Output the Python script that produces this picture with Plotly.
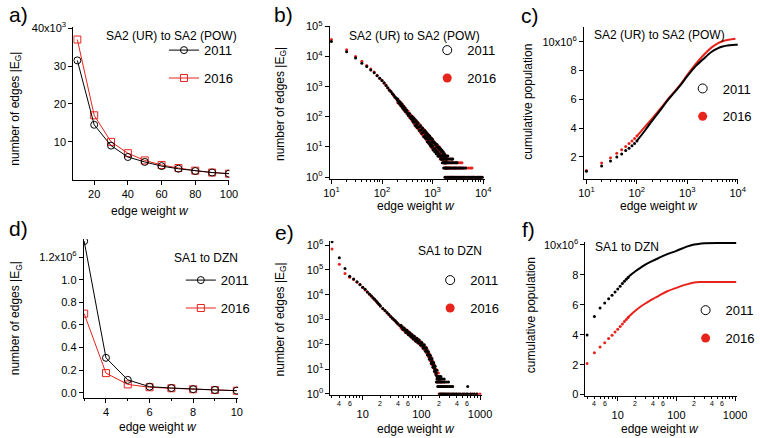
import math
import plotly.graph_objects as go

# ---------------- data ----------------
# a) SA2 (UR) -> SA2 (POW): number of edges per weight bin
a_w = [10, 20, 30, 40, 50, 60, 70, 80, 90, 100]
a_2011 = [31500, 14500, 9000, 6000, 4700, 3600, 2900, 2300, 1900, 1600]
a_2016 = [37000, 17000, 10000, 7000, 5100, 3900, 3100, 2400, 1900, 1600]

# b) SA2 (UR) -> SA2 (POW): edges per weight, log-log
b_w_2011 = [10, 20, 30, 40, 50, 60, 70, 80, 90, 100, 110, 120, 130, 140, 150, 160, 170, 180, 190, 200,
            210, 220, 230, 240, 250, 260, 270, 280, 290, 300, 320, 340, 360, 380, 400, 420, 440, 460, 480, 500,
            530, 560, 590, 620, 650, 680, 710, 740, 770, 800, 830, 860, 890, 920, 950, 980, 1000, 1040, 1080, 1120,
            1160, 1200, 1250, 1300, 1350, 1400, 1450, 1500, 1550, 1600, 1650, 1700, 1750, 1800, 1850, 1900]
b_n_2011 = [31500, 14500, 9000, 6000, 4700, 3600, 2900, 2300, 1900, 1600, 1350, 1100, 930, 760, 700, 580, 530, 450, 420, 360,
            330, 310, 270, 255, 225, 215, 190, 185, 165, 160, 130, 125, 100, 98, 80, 85, 66, 70, 55, 58,
            45, 48, 36, 40, 30, 33, 24, 28, 20, 23, 17, 21, 14, 18, 12, 15, 11, 14, 9, 12,
            8, 10, 7, 9, 6, 8, 5, 7, 5, 6, 4, 5, 3, 4, 3, 4]
b_w_2011_more = [205, 215, 225, 235, 245, 255, 265, 275, 285, 295, 310, 330, 350, 370, 390, 410, 430, 450, 470, 490,
                 515, 545, 575, 605, 635, 665, 695, 725, 755, 785, 815, 845, 875, 905, 935, 965, 990, 1020, 1060, 1100,
                 1140, 1180, 1220, 1270, 1320, 1370, 1420, 1470, 1520, 1570, 1620, 1680, 1720, 1780, 1820, 1880]
b_n_2011_more = [390, 285, 320, 235, 270, 198, 230, 168, 198, 145, 165, 112, 130, 88, 104, 68, 90, 52, 76, 44,
                 64, 35, 52, 28, 43, 22, 36, 19, 30, 15, 26, 13, 23, 11, 20, 10, 18, 8, 15, 7,
                 13, 6, 12, 5, 10, 5, 9, 4, 8, 4, 7, 3, 6, 3, 5, 2]
b_w_2016 = [10, 20, 30, 40, 50, 60, 70, 80, 90, 100, 110, 120, 130, 140, 150, 160, 170, 180, 190, 200,
            210, 220, 230, 240, 250, 260, 270, 280, 290, 300, 320, 340, 360, 380, 400, 420, 440, 460, 480, 500,
            530, 560, 590, 620, 650, 680, 710, 740, 770, 800, 830, 860, 890, 920, 950, 980, 1000, 1040, 1080, 1120,
            1160, 1200, 1250, 1300, 1350, 1400, 1450, 1500, 1550, 1600, 1650, 1700, 1750, 1800, 1850]
b_n_2016 = [37000, 17000, 10000, 7000, 5100, 3900, 3100, 2400, 1900, 1600, 1300, 1150, 900, 800, 680, 600, 510, 470, 400, 380,
            320, 300, 280, 240, 235, 205, 200, 175, 170, 150, 140, 115, 110, 90, 92, 75, 78, 62, 63, 52,
            50, 42, 43, 34, 36, 27, 30, 22, 25, 19, 22, 15, 19, 13, 16, 11, 14, 10, 13, 9,
            11, 8, 10, 7, 8, 6, 7, 5, 6, 4, 5, 4, 3, 5, 3]
b_w_2016_more = [205, 215, 225, 235, 245, 255, 265, 275, 285, 295, 310, 330, 350, 370, 390, 410, 430, 450, 470, 490,
                 515, 545, 575, 605, 635, 665, 695, 725, 755, 785, 815, 845, 875, 905, 935, 965, 990, 1020, 1060, 1100,
                 1140, 1180, 1220, 1270, 1320, 1370, 1420, 1470, 1520, 1570, 1620, 1680, 1720, 1780, 1820, 1880]
b_n_2016_more = [300, 350, 255, 300, 215, 250, 180, 215, 150, 185, 128, 150, 95, 118, 75, 98, 60, 82, 48, 70,
                 40, 58, 31, 46, 25, 39, 21, 33, 17, 28, 14, 24, 12, 21, 10, 19, 9, 16, 8, 14,
                 7, 12, 6, 11, 5, 10, 4, 8, 4, 7, 3, 6, 3, 5, 2, 4]
# low-count bands of the tail: {edge count: weights}
b_tail_2011 = {
    1: [1750, 1850, 1950, 2050, 2150, 2250, 2350, 2450, 2550, 2700, 2850, 3000, 3150, 3300, 3500, 3700, 3900,
        4100, 4300, 4600, 4900, 5200, 5500, 5800, 6100, 6400, 6800, 7200, 7600, 8000, 8500, 9000, 9600],
    2: [1650, 1750, 1850, 1950, 2050, 2150, 2250, 2400, 2550, 2700, 2850, 3000, 3200, 3400, 3600, 3850, 4100, 4500],
    3: [1550, 1650, 1750, 1850, 1950, 2050, 2200, 2350, 2500, 2700, 2900, 3050],
    4: [1450, 1550, 1650, 1750, 1850, 1950, 2100, 2250, 2400, 2500],
    5: [1300, 1400, 1500, 1600, 1700, 1800, 1900, 2000],
}
b_tail_2016 = {
    1: [1800, 1900, 2000, 2100, 2200, 2300, 2400, 2500, 2600, 2750, 2900, 3050, 3200, 3400, 3600, 3800, 4000,
        4250, 4500, 4800, 5100, 5400, 5700, 6000, 6400, 6800, 7200, 7700, 8200, 8700, 9200],
    2: [1700, 1800, 1900, 2000, 2100, 2200, 2300, 2450, 2600, 2750, 2900, 3100, 3300, 3500, 3700, 4000, 4300,
        4700, 5200, 5700, 6000],
    3: [1600, 1700, 1800, 1900, 2000, 2150, 2300, 2450, 2600, 2800, 3000, 3300, 3600, 3800],
    4: [1500, 1600, 1700, 1800, 1900, 2000, 2200, 2400],
    5: [1350, 1450, 1550, 1650, 1750, 1900],
}

# c) SA2 (UR) -> SA2 (POW): cumulative population
c_w_dots = [10, 20, 30, 40, 50, 60, 70, 80, 90, 100]
c_2011_dots = [1.0e6, 1.35e6, 1.71e6, 1.98e6, 2.2e6, 2.43e6, 2.6e6, 2.76e6, 2.92e6, 3.1e6]
c_2016_dots = [1.05e6, 1.57e6, 1.93e6, 2.25e6, 2.49e6, 2.72e6, 2.92e6, 3.1e6, 3.28e6, 3.44e6]
c_w_line = [100, 150, 200, 300, 400, 500, 700, 1000, 1500, 2000, 3000, 4000, 5000, 6000, 7000, 8000, 9000, 10000]
c_2011_line = [3.1e6, 3.9e6, 4.5e6, 5.3e6, 5.9e6, 6.3e6, 6.9e6, 7.62e6, 8.35e6, 8.75e6, 9.3e6, 9.55e6, 9.68e6,
               9.74e6, 9.77e6, 9.79e6, 9.8e6, 9.8e6]
c_w_line16 = [100, 150, 200, 300, 400, 500, 700, 1000, 1500, 2000, 3000, 4000, 5000, 6000, 7000, 8000, 9000]
c_2016_line = [3.44e6, 4.15e6, 4.65e6, 5.4e6, 5.95e6, 6.35e6, 6.95e6, 7.7e6, 8.5e6, 9.0e6, 9.6e6, 9.9e6, 10.05e6,
               10.12e6, 10.16e6, 10.2e6, 10.22e6]

# d) SA1 -> DZN: number of edges per weight
d_w = [3, 4, 5, 6, 7, 8, 9, 10]
d_2011 = [1.34e6, 0.31e6, 0.115e6, 0.055e6, 0.043e6, 0.033e6, 0.026e6, 0.02e6]
d_2016 = [0.70e6, 0.175e6, 0.075e6, 0.05e6, 0.041e6, 0.032e6, 0.025e6, 0.0195e6]

# e) SA1 -> DZN: edges per weight, log-log
e_w = [3, 4, 5, 6, 7, 8, 9, 10, 11, 12, 13, 14, 15, 16, 17, 18, 19, 20, 22, 24, 26, 28, 30, 32, 34, 36, 38, 40,
       43, 46, 49, 52, 55, 58, 61, 64, 67, 70, 74, 78, 82, 86, 90, 95, 100, 105, 110, 115, 120, 125, 130, 135,
       140, 145, 150, 155, 160, 165, 170, 175, 180]
e_2011 = [1350000, 310000, 115000, 55000, 43000, 33000, 26000, 20000, 16500, 13000, 10800, 9000, 7600, 6500,
          5600, 4700, 4100, 3500, 2800, 2300, 1900, 1600, 1300, 1150, 980, 900, 760, 680,
          560, 500, 420, 390, 330, 310, 260, 250, 210, 205, 170, 165, 140, 135, 120, 115, 100, 92, 80, 72,
          60, 52, 42, 36, 30, 26, 21, 18, 15, 12, 10, 9, 7]
e_2016 = [700000, 170000, 72000, 50000, 41000, 32000, 25000, 19500, 15500, 12800, 10500, 8700, 7400, 6300,
          5400, 4600, 4000, 3500, 2700, 2250, 1850, 1550, 1350, 1100, 1000, 850, 780, 650,
          580, 480, 440, 370, 350, 290, 275, 240, 225, 190, 180, 155, 148, 125, 122, 105, 98, 85, 78, 65,
          58, 45, 40, 30, 28, 22, 19, 15, 13, 11, 9, 8, 6]
e_w_more = [45, 48, 51, 54, 57, 60, 63, 66, 69, 72, 76, 80, 84, 88, 92, 97, 102, 107, 112, 117, 122, 127, 132,
            137, 142, 147, 152, 157, 162, 167, 172, 177, 185, 195]
e_2011_more = [590, 400, 460, 300, 365, 245, 300, 200, 250, 165, 210, 132, 175, 112, 150, 92, 118, 70, 95, 53,
               72, 37, 50, 25, 36, 17, 26, 12, 18, 8, 13, 6, 9, 4]
e_2016_more = [460, 510, 350, 400, 270, 325, 225, 270, 185, 225, 150, 185, 125, 155, 105, 130, 82, 100, 62, 80,
               46, 60, 32, 42, 22, 30, 15, 21, 11, 15, 7, 10, 5, 7]
e_tail_2011 = {
    1: [205, 215, 225, 235, 245, 255, 270, 285, 300, 320, 340, 360, 380, 400, 430, 460, 500, 540, 580, 620,
        680, 740, 800, 880],
    2: [190, 200, 210, 220, 230, 245, 260, 280, 300, 320, 340, 615],
    3: [180, 190, 200, 210, 220, 235, 250, 270, 290],
    4: [185, 195, 205, 215, 230, 245],
    5: [185, 195, 205, 215],
}
e_tail_2016 = {
    1: [200, 215, 230, 250, 270, 290, 320, 350, 400, 450, 520, 600, 700, 800, 900, 1000],
    2: [195, 210, 225, 240, 260, 280, 300, 340],
    3: [185, 200, 215, 230, 250],
    4: [185, 195, 205],
}

# f) SA1 -> DZN: cumulative population
f_w_dots = [3, 4, 5, 6, 7, 8, 9, 10, 11, 12, 13, 14, 15]
f_2011_dots = [3.98e6, 5.22e6, 5.78e6, 6.12e6, 6.4e6, 6.64e6, 6.86e6, 7.05e6, 7.24e6, 7.42e6, 7.57e6, 7.7e6, 7.82e6]
f_2016_dots = [2.08e6, 2.8e6, 3.18e6, 3.46e6, 3.74e6, 3.97e6, 4.18e6, 4.37e6, 4.55e6, 4.72e6, 4.88e6, 5.02e6, 5.15e6]
f_w_line = [15, 16, 18, 20, 25, 30, 40, 50, 70, 100, 150, 200, 250, 300, 500, 700, 1050]
f_2011_line = [7.82e6, 7.93e6, 8.1e6, 8.24e6, 8.5e6, 8.7e6, 8.95e6, 9.12e6, 9.38e6, 9.6e6, 9.88e6, 10.02e6,
               10.08e6, 10.1e6, 10.12e6, 10.12e6, 10.12e6]
f_2016_line = [5.15e6, 5.26e6, 5.45e6, 5.6e6, 5.9e6, 6.1e6, 6.4e6, 6.6e6, 6.9e6, 7.13e6, 7.36e6, 7.48e6,
               7.52e6, 7.52e6, 7.52e6, 7.52e6, 7.52e6]

# tick labels
a_yticks = [10000, 20000, 30000, 40000]
a_ytext = ["10", "20", "30", "40x10<sup>3</sup>"]
d_yticks = [0, 0.2e6, 0.4e6, 0.6e6, 0.8e6, 1.0e6, 1.2e6]
d_ytext = ["0.0", "0.2", "0.4", "0.6", "0.8", "1.0", "1.2x10<sup>6</sup>"]
pop_yticks_c = [2e6, 4e6, 6e6, 8e6, 10e6]
pop_ytext_c = ["2", "4", "6", "8", "10x10<sup>6</sup>"]
pop_yticks_f = [0, 2e6, 4e6, 6e6, 8e6, 10e6]
pop_ytext_f = ["0", "2", "4", "6", "8", "10x10<sup>6</sup>"]
dec_x_b = [10, 100, 1000, 10000]
dec_x_b_text = ["10<sup>1</sup>", "10<sup>2</sup>", "10<sup>3</sup>", "10<sup>4</sup>"]
dec_y_b = [1, 10, 100, 1000, 10000, 100000]
dec_y_b_text = ["10<sup>0</sup>", "10<sup>1</sup>", "10<sup>2</sup>", "10<sup>3</sup>", "10<sup>4</sup>", "10<sup>5</sup>"]
dec_y_e = [1, 10, 100, 1000, 10000, 100000, 1000000]
dec_y_e_text = ["10<sup>0</sup>", "10<sup>1</sup>", "10<sup>2</sup>", "10<sup>3</sup>", "10<sup>4</sup>",
                "10<sup>5</sup>", "10<sup>6</sup>"]
dec_x_e = [10, 100, 1000]
dec_x_e_text = ["10", "100", "1000"]
small_x_e = [4, 6, 20, 40, 60, 200, 400, 600]

# ---------------- style ----------------
FONT = "Liberation Sans, Arial, Helvetica, sans-serif"
BLACK = "#000000"
RED = "#e8231c"
W, H = 760, 438
DOT = 3


def dx(a, b):
    return [a / W, b / W]


def dy(top, bottom):
    return [1 - bottom / H, 1 - top / H]


def minor_log(lo, hi):
    vals = []
    for dec in range(lo, hi):
        for m in range(2, 10):
            vals.append(m * 10 ** dec)
    return vals


def flat(tail):
    xs, ys = [], []
    for n, ws in tail.items():
        xs += ws
        ys += [n] * len(ws)
    return xs, ys


fig = go.Figure()

# a
fig.add_trace(go.Scatter(x=a_w, y=a_2016, mode="lines+markers", name="2016", legend="legend",
                         legendgroup="a16", legendrank=2,
                         line=dict(color=RED, width=1),
                         marker=dict(symbol="square-open", size=7, color=RED, line=dict(width=1, color=RED)),
                         xaxis="x", yaxis="y"))
fig.add_trace(go.Scatter(x=a_w, y=a_2011, mode="lines+markers", name="2011", legend="legend",
                         legendgroup="a11", legendrank=1,
                         line=dict(color=BLACK, width=1),
                         marker=dict(symbol="circle-open", size=7, color=BLACK, line=dict(width=1, color=BLACK)),
                         xaxis="x", yaxis="y"))

# b
tx, ty = flat(b_tail_2016)
fig.add_trace(go.Scatter(x=b_w_2016 + b_w_2016_more + tx, y=b_n_2016 + b_n_2016_more + ty, mode="markers",
                         showlegend=False, marker=dict(color=RED, size=DOT), xaxis="x2", yaxis="y2"))
tx, ty = flat(b_tail_2011)
fig.add_trace(go.Scatter(x=b_w_2011 + b_w_2011_more + tx, y=b_n_2011 + b_n_2011_more + ty, mode="markers",
                         showlegend=False, marker=dict(color=BLACK, size=DOT), xaxis="x2", yaxis="y2"))

# c
fig.add_trace(go.Scatter(x=c_w_dots, y=c_2016_dots, mode="markers", showlegend=False,
                         marker=dict(color=RED, size=DOT), xaxis="x3", yaxis="y3"))
fig.add_trace(go.Scatter(x=c_w_dots, y=c_2011_dots, mode="markers", showlegend=False,
                         marker=dict(color=BLACK, size=DOT), xaxis="x3", yaxis="y3"))
fig.add_trace(go.Scatter(x=c_w_line16, y=c_2016_line, mode="lines", showlegend=False,
                         line=dict(color=RED, width=2, shape="spline"), xaxis="x3", yaxis="y3"))
fig.add_trace(go.Scatter(x=c_w_line, y=c_2011_line, mode="lines", showlegend=False,
                         line=dict(color=BLACK, width=2, shape="spline"), xaxis="x3", yaxis="y3"))

# d
fig.add_trace(go.Scatter(x=d_w, y=d_2016, mode="lines+markers", name="2016", legend="legend4",
                         legendgroup="d16", legendrank=2,
                         line=dict(color=RED, width=1),
                         marker=dict(symbol="square-open", size=7, color=RED, line=dict(width=1, color=RED)),
                         xaxis="x4", yaxis="y4"))
fig.add_trace(go.Scatter(x=d_w, y=d_2011, mode="lines+markers", name="2011", legend="legend4",
                         legendgroup="d11", legendrank=1,
                         line=dict(color=BLACK, width=1),
                         marker=dict(symbol="circle-open", size=7, color=BLACK, line=dict(width=1, color=BLACK)),
                         xaxis="x4", yaxis="y4"))

# e
tx, ty = flat(e_tail_2016)
fig.add_trace(go.Scatter(x=e_w + e_w_more + tx, y=e_2016 + e_2016_more + ty, mode="markers", showlegend=False,
                         marker=dict(color=RED, size=DOT), xaxis="x5", yaxis="y5"))
tx, ty = flat(e_tail_2011)
fig.add_trace(go.Scatter(x=e_w + e_w_more + tx, y=e_2011 + e_2011_more + ty, mode="markers", showlegend=False,
                         marker=dict(color=BLACK, size=DOT), xaxis="x5", yaxis="y5"))

# f
fig.add_trace(go.Scatter(x=f_w_dots, y=f_2016_dots, mode="markers", showlegend=False,
                         marker=dict(color=RED, size=DOT), xaxis="x6", yaxis="y6"))
fig.add_trace(go.Scatter(x=f_w_dots, y=f_2011_dots, mode="markers", showlegend=False,
                         marker=dict(color=BLACK, size=DOT), xaxis="x6", yaxis="y6"))
fig.add_trace(go.Scatter(x=f_w_line, y=f_2016_line, mode="lines", showlegend=False,
                         line=dict(color=RED, width=2, shape="spline"), xaxis="x6", yaxis="y6"))
fig.add_trace(go.Scatter(x=f_w_line, y=f_2011_line, mode="lines", showlegend=False,
                         line=dict(color=BLACK, width=2, shape="spline"), xaxis="x6", yaxis="y6"))

# legend keys for the dot panels (open circle = 2011, filled red = 2016)
for ax, lg in [("2", "legend2"), ("3", "legend3"), ("5", "legend5"), ("6", "legend6")]:
    fig.add_trace(go.Scatter(x=[None], y=[None], mode="markers", name="2011", legend=lg,
                             legendgroup=lg + "a", legendrank=1,
                             marker=dict(symbol="circle-open", size=9, color=BLACK, line=dict(width=1, color=BLACK)),
                             xaxis="x" + ax, yaxis="y" + ax))
    fig.add_trace(go.Scatter(x=[None], y=[None], mode="markers", name="2016", legend=lg,
                             legendgroup=lg + "b", legendrank=2,
                             marker=dict(symbol="circle", size=9, color=RED),
                             xaxis="x" + ax, yaxis="y" + ax))

axis_common = dict(showline=True, linecolor=BLACK, linewidth=1, ticks="outside", ticklen=4, tickwidth=1,
                   tickcolor=BLACK, showgrid=False, zeroline=False, mirror=False,
                   tickfont=dict(family=FONT, size=11, color=BLACK))
minor_lin = dict(ticks="outside", ticklen=2, tickwidth=1, tickcolor=BLACK, showgrid=False)


def mk(**kw):
    d = dict(axis_common)
    d.update(kw)
    return d


minor_e = [v for v in minor_log(0, 3) if v >= 3]

layout_axes = dict(
    xaxis=mk(domain=dx(68, 228), range=[7.6, 100.2], tickvals=[20, 40, 60, 80, 100], anchor="y"),
    yaxis=mk(domain=dy(20, 177), range=[0, 40200], tickvals=a_yticks, ticktext=a_ytext, anchor="x"),
    xaxis2=mk(domain=dx(331, 490), type="log", range=[0.967, 4.03], tickvals=dec_x_b, ticktext=dec_x_b_text,
              ticklabelstandoff=-1, minor=dict(minor_lin, tickvals=minor_log(1, 4)), anchor="y2"),
    yaxis2=mk(domain=dy(19, 176.7), type="log", range=[-0.077, 5.0], tickvals=dec_y_b, ticktext=dec_y_b_text,
              anchor="x2"),
    xaxis3=mk(domain=dx(591.7, 750), type="log", range=[0.95, 4.01], tickvals=dec_x_b, ticktext=dec_x_b_text,
              ticklabelstandoff=-1, minor=dict(minor_lin, tickvals=minor_log(1, 4)), anchor="y3"),
    yaxis3=mk(domain=dy(20, 176.7), range=[0.42e6, 11.01e6], tickvals=pop_yticks_c, ticktext=pop_ytext_c,
              anchor="x3"),
    xaxis4=mk(domain=dx(78.7, 237), range=[2.98, 10.06], tickvals=[4, 6, 8, 10],
              minor=dict(minor_lin, tickvals=[3, 5, 7, 9]), anchor="y4"),
    yaxis4=mk(domain=dy(238, 401.7), range=[-0.043e6, 1.36e6], tickvals=d_yticks, ticktext=d_ytext, anchor="x4"),
    xaxis5=mk(domain=dx(331.7, 487), type="log", range=[0.45, 3.03], tickvals=dec_x_e, ticktext=dec_x_e_text,
              ticklabelstandoff=5, minor=dict(minor_lin, tickvals=minor_e), anchor="y5"),
    yaxis5=mk(domain=dy(240, 398.5), type="log", range=[-0.03, 6.17], tickvals=dec_y_e, ticktext=dec_y_e_text,
              anchor="x5"),
    xaxis6=mk(domain=dx(593.3, 748.5), type="log", range=[0.45, 3.03], tickvals=dec_x_e, ticktext=dec_x_e_text,
              ticklabelstandoff=5, minor=dict(minor_lin, tickvals=minor_e), anchor="y6"),
    yaxis6=mk(domain=dy(241, 400), range=[-0.1e6, 10.2e6], tickvals=pop_yticks_f, ticktext=pop_ytext_f,
              anchor="x6"),
)


def leg(x_px, y_px):
    return dict(x=x_px / W, y=1 - y_px / H, xanchor="left", yanchor="top", bgcolor="rgba(0,0,0,0)",
                borderwidth=0, font=dict(family=FONT, size=13, color=BLACK), tracegroupgap=8, itemwidth=30)


ann = []


def text(x, y, s, size=12, xanchor="center", yanchor="middle", angle=0):
    ann.append(dict(x=x / W, y=1 - y / H, xref="paper", yref="paper", text=s, showarrow=False,
                    xanchor=xanchor, yanchor=yanchor, textangle=angle,
                    font=dict(family=FONT, size=size, color=BLACK)))


# panel letters
for s, x, y in [("a)", 0, 7), ("b)", 272, 7), ("c)", 525, 8), ("d)", 0, 227), ("e)", 273, 231), ("f)", 526, 228)]:
    text(x, y, s, size=21, xanchor="left")

# in-plot titles
text(238, 29, "SA2 (UR) to SA2 (POW)", xanchor="right")
text(487.3, 29.3, "SA2 (UR) to SA2 (POW)", xanchor="right")
text(600, 28.3, "SA2 (UR) to SA2 (POW)", xanchor="left")
text(239.3, 257.7, "SA1 to DZN", xanchor="right")
text(489.3, 250, "SA1 to DZN", xanchor="right")
text(601, 246.7, "SA1 to DZN", xanchor="left")

# axis titles
YT = "number of edges |E<sub>G</sub>|"
XT = "edge weight <i>w</i>"
text(9, 104, YT, angle=-90)
text(281, 99, YT, angle=-90)
text(534, 97, "cumulative population", angle=-90)
text(9, 320, YT, angle=-90)
text(281, 321, YT, angle=-90)
text(537, 317, "cumulative population", angle=-90)
text(146.7, 209.3, XT)
text(419, 204, XT)
text(669, 204, XT)
text(155, 432, XT)
text(419.5, 433.5, XT)
text(670, 433.5, XT)

# small minor-tick labels on e) and f)
for xr in ["x5", "x6"]:
    for v in small_x_e:
        ann.append(dict(x=math.log10(v), y=1 - 402 / H, xref=xr, yref="paper", text=str(v)[0], showarrow=False,
                        xanchor="center", yanchor="top", font=dict(family=FONT, size=7, color=BLACK)))

fig.update_layout(
    width=W, height=H, margin=dict(l=0, r=0, t=0, b=0),
    paper_bgcolor="white", plot_bgcolor="white",
    font=dict(family=FONT, color=BLACK),
    legend=leg(161, 28), legend2=leg(431, 28), legend3=leg(693, 67.5),
    legend4=leg(178.3, 265), legend5=leg(434, 265), legend6=leg(696, 296),
    annotations=ann,
    **layout_axes,
)

fig.write_html("out.html", config={"displayModeBar": False},
               post_script="document.body.style.margin='0px';")
